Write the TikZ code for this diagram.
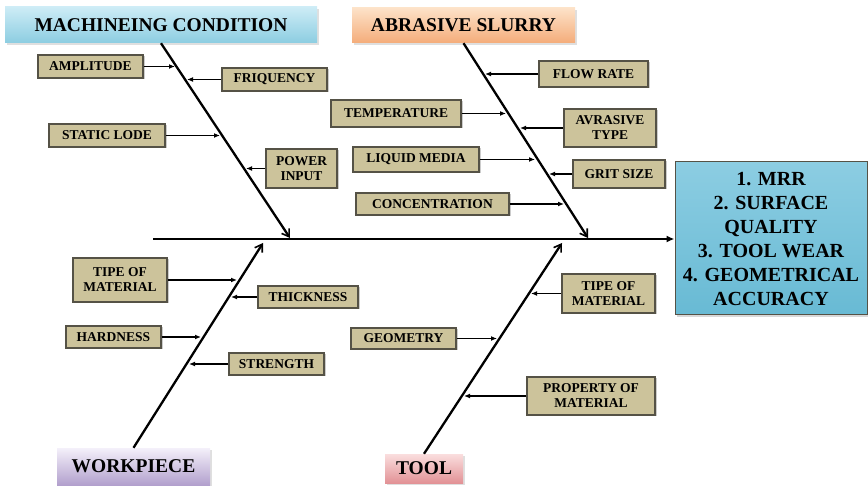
\documentclass[tikz,border=0pt]{standalone}
\usepackage{fontspec}
\setmainfont{Liberation Serif}
\newfontfamily\capfont{Liberation Serif}
\usepackage{tikz}
\usetikzlibrary{arrows.meta,shadows}

\definecolor{khaki}{RGB}{204,195,155}
\definecolor{boxline}{RGB}{85,82,70}
\definecolor{mcblue}{RGB}{205,236,246}
\definecolor{mcblueD}{RGB}{140,205,225}
\definecolor{peachL}{RGB}{253,226,200}
\definecolor{peachD}{RGB}{244,172,122}
\definecolor{lavL}{RGB}{244,240,250}
\definecolor{lavD}{RGB}{178,160,205}
\definecolor{pinkL}{RGB}{250,222,222}
\definecolor{pinkD}{RGB}{226,146,150}
\definecolor{resT}{RGB}{140,205,226}
\definecolor{resM}{RGB}{86,176,206}
\definecolor{resB}{RGB}{104,186,212}

\begin{document}
\begin{tikzpicture}[x=1pt, y=-1pt,
    cause/.style={draw=boxline, line width=1.3pt, fill=khaki, align=center, inner sep=1pt,
      font=\capfont\fontsize{13.5}{15}\selectfont\bfseries,
      drop shadow={shadow xshift=1.5pt, shadow yshift=-1.5pt, fill=black!40}},
    head/.style={draw=none, inner sep=0pt, font=\capfont\fontsize{19.5}{22}\selectfont\bfseries,
      drop shadow={shadow xshift=2pt, shadow yshift=-2pt, fill=black!25}},
    bone/.style={line width=2.3pt, -{Straight Barb[length=7pt, width=9pt, line width=1.6pt]}},
    rib/.style={line width=1.3pt, -{Latex[length=6pt, width=5pt]}}]
  \useasboundingbox (0,0) rectangle (868,486);

  % main bone
  \coordinate (tail) at (153,239);
  \node[draw=boxline, line width=1pt, top color=resT, middle color=resM, bottom color=resB,
    minimum width=192pt, minimum height=153pt, inner sep=0pt, align=center,
    font=\capfont\fontsize{20}{24}\selectfont\bfseries,
    drop shadow={shadow xshift=2pt, shadow yshift=-2pt, fill=black!30}] (res) at (771,238.5)
    {1. MRR\\2. SURFACE\\QUALITY\\3. TOOL WEAR\\4. GEOMETRICAL\\ACCURACY};
  \draw[line width=2.3pt, -{Latex[length=8pt, width=7pt]}] (tail) -- (res.west |- tail);

  % category heads
  \node[head, top color=mcblue, bottom color=mcblueD, minimum width=312pt, minimum height=36pt] (mc) at (161,25) {MACHINEING CONDITION};
  \node[head, top color=peachL, bottom color=peachD, minimum width=223pt, minimum height=35pt] (abr) at (463.5,25.5) {ABRASIVE SLURRY};
  \node[head, top color=lavL, bottom color=lavD, minimum width=153pt, minimum height=37pt] (work) at (133.5,466.5) {WORKPIECE};
  \node[head, top color=pinkL, bottom color=pinkD, minimum width=78pt, minimum height=29pt] (tool) at (424,468.5) {TOOL};

  \coordinate (mcEnd) at (290,238);
  \coordinate (abrEnd) at (588,238);
  \coordinate (workEnd) at (263,243);
  \coordinate (toolEnd) at (562,243);

  \draw[bone] (mc.south) -- (mcEnd);
  \draw[bone] (abr.south) -- (abrEnd);
  \draw[bone] (work.north) -- (workEnd);
  \draw[bone] (tool.north) -- (toolEnd);

  % machining condition
  \node[cause, minimum width=105pt, minimum height=23pt] (amp) at (90.5,66.5) {AMPLITUDE};
  \node[cause, minimum width=105pt, minimum height=23pt] (friq) at (274.5,79.5) {FRIQUENCY};
  \node[cause, minimum width=116pt, minimum height=23pt] (stat) at (107,135.5) {STATIC LODE};
  \node[cause, minimum width=71pt, minimum height=39pt] (pow) at (301.5,168.5) {POWER\\INPUT};
  \coordinate (ampTip) at (175,66.5);
  \coordinate (friqTip) at (187,79.5);
  \coordinate (statTip) at (220,135.5);
  \coordinate (powTip) at (246,168.5);
  \draw[rib] (amp) -- (ampTip);
  \draw[rib] (friq) -- (friqTip);
  \draw[rib] (stat) -- (statTip);
  \draw[rib] (pow) -- (powTip);

  % abrasive slurry
  \node[cause, minimum width=109pt, minimum height=26pt] (flow) at (593.5,74) {FLOW RATE};
  \node[cause, minimum width=130pt, minimum height=27pt] (temp) at (396,113.5) {TEMPERATURE};
  \node[cause, minimum width=92pt, minimum height=38pt] (avr) at (610,128) {AVRASIVE\\TYPE};
  \node[cause, minimum width=126pt, minimum height=25pt] (liq) at (416,159.5) {LIQUID MEDIA};
  \node[cause, minimum width=92pt, minimum height=28pt] (grit) at (619,174) {GRIT SIZE};
  \node[cause, minimum width=153pt, minimum height=22pt] (conc) at (432.5,204) {CONCENTRATION};
  \coordinate (flowTip) at (485,74);
  \coordinate (tempTip) at (506,113.5);
  \coordinate (avrTip) at (520,128);
  \coordinate (liqTip) at (535,159.5);
  \coordinate (gritTip) at (549,174);
  \coordinate (concTip) at (564,204);
  \draw[rib] (flow) -- (flowTip);
  \draw[rib] (temp) -- (tempTip);
  \draw[rib] (avr) -- (avrTip);
  \draw[rib] (liq) -- (liqTip);
  \draw[rib] (grit) -- (gritTip);
  \draw[rib] (conc) -- (concTip);

  % workpiece
  \node[cause, minimum width=94pt, minimum height=44pt] (wmat) at (120,280) {TIPE OF\\MATERIAL};
  \node[cause, minimum width=100pt, minimum height=22pt] (thick) at (308,297) {THICKNESS};
  \node[cause, minimum width=95pt, minimum height=22pt] (hard) at (113.5,337) {HARDNESS};
  \node[cause, minimum width=95pt, minimum height=22pt] (str) at (276.5,364) {STRENGTH};
  \coordinate (wmatTip) at (237,280);
  \coordinate (thickTip) at (231,297);
  \coordinate (hardTip) at (201,337);
  \coordinate (strTip) at (189,364);
  \draw[rib] (wmat) -- (wmatTip);
  \draw[rib] (thick) -- (thickTip);
  \draw[rib] (hard) -- (hardTip);
  \draw[rib] (str) -- (strTip);

  % tool
  \node[cause, minimum width=93pt, minimum height=39pt] (tmat) at (608.5,293.5) {TIPE OF\\MATERIAL};
  \node[cause, minimum width=105pt, minimum height=21pt] (geo) at (403.5,338.5) {GEOMETRY};
  \node[cause, minimum width=128pt, minimum height=38pt] (prop) at (591,396) {PROPERTY OF\\MATERIAL};
  \coordinate (tmatTip) at (531,293.5);
  \coordinate (geoTip) at (497,338.5);
  \coordinate (propTip) at (464,396);
  \draw[rib] (tmat) -- (tmatTip);
  \draw[rib] (geo) -- (geoTip);
  \draw[rib] (prop) -- (propTip);
\end{tikzpicture}
\end{document}
